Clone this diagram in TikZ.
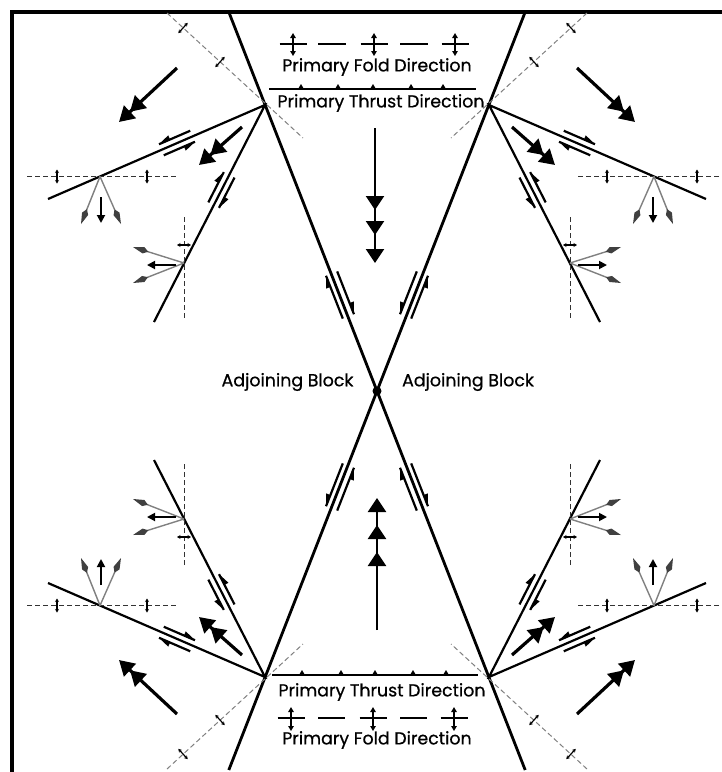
\documentclass[tikz,border=0pt]{standalone}
\usepackage{fontspec}
\newfontfamily\lblfont{Poppins}[FakeBold=0.6]
\usetikzlibrary{arrows.meta}

\newcommand\slippair[4]{%
  \begin{scope}[shift={#1},rotate=#2,yscale=#3]
    \draw[strip] (-#4,-6) -- (#4,-6);
    \fill (#4,-6) -- (#4-12,-6) -- (#4-12,-10.5) -- cycle;
    \draw[strip] (#4,6) -- (-#4,6);
    \fill (-#4,6) -- (-#4+12,6) -- (-#4+12,10.5) -- cycle;
  \end{scope}}

\newcommand\faultquadrant{%
  \draw[fault] (228.8,12) -- (377,391);
  \draw[minor] (48,199) -- (265,105) -- (154,322);
  \draw[axial] (167,13) -- (303,138);
  \draw[hinge] (27,176.5) -- (177,176.5);
  \draw[hinge] (184,217) -- (184,318);
  \draw[foldmark] (178.3,33.2) -- (187.7,22.8);
  \draw[foldmark] (215.3,67.2) -- (224.7,56.8);
  \foreach \x in {57,147} \draw[foldmark] (\x,169.5) -- (\x,183.5);
  \draw[foldmark] (177,245) -- (191,245);
  \draw[fanray] (100,176.5) -- (81,224);
  \draw[fanray] (100,176.5) -- (121,224);
  \draw[fanarrow] (101,197) -- (101,223);
  \draw[fanray] (184,263) -- (133,247);
  \draw[fanray] (184,263) -- (133,283);
  \draw[fanarrow] (176,265) -- (147,265);
  \draw[bigarrow] (177,68) -- (119,122);
  \draw[bigarrow] (242,127) -- (199,165);
  \slippair{(340,295)}{111.4}{1}{23}
  \slippair{(177,143)}{203.4}{-1}{17}
  \slippair{(221.4,190)}{242.9}{1}{17}}

\begin{document}
\begin{tikzpicture}[x=1pt,y=-1pt,
  fault/.style={line width=2.8pt},
  minor/.style={line width=2.2pt},
  axial/.style={gray,line width=1pt,dash pattern=on 5pt off 3pt},
  hinge/.style={black!80,line width=0.9pt,dash pattern=on 5pt off 3pt},
  foldmark/.style={line width=1.2pt,{Stealth[length=3.5pt,width=4pt]}-{Stealth[length=3.5pt,width=4pt]}},
  fanray/.style={black!50,line width=1.4pt,-{Kite[length=16pt,width=6.5pt,inset=5pt,color=black!75]}},
  fanarrow/.style={line width=1.8pt,-{Triangle[length=8pt,width=8pt]}},
  bigarrow/.style={line width=3.2pt,-{Triangle[length=15pt,width=17pt]Triangle[length=15pt,width=17pt]}},
  strip/.style={line width=2.2pt},
  mainhead/.style={-{Triangle[length=14pt,width=18pt]}},
  foldbar/.style={line width=2.6pt},
  foldarrow/.style={line width=1.4pt,{Triangle[length=5pt,width=5.5pt]}-{Triangle[length=5pt,width=5.5pt]}},
  lbl/.style={font=\lblfont\fontsize{17.4}{20}\selectfont,inner sep=0pt}]
\useasboundingbox (0,0) rectangle (722,772);
\draw[line width=4.5pt] (12,772) -- (12,12) -- (722,12);

\faultquadrant
\begin{scope}[shift={(754,0)},xscale=-1]\faultquadrant\end{scope}
\begin{scope}[shift={(0,782)},yscale=-1]\faultquadrant\end{scope}
\begin{scope}[shift={(754,782)},scale=-1]\faultquadrant\end{scope}

\coordinate (c) at (377,391);
\fill (c) circle[radius=4.5];
\node[lbl] (adjW) at (287.5,382) {Adjoining Block};
\node[lbl] (adjE) at (468,382) {Adjoining Block};

\draw[line width=2.2pt] (375,128) -- (375,250);
\foreach \y in {210,235,263} \draw[line width=2.2pt,mainhead] (375,\y-14) -- (375,\y);
\draw[line width=2.2pt] (377,630) -- (377,510);
\foreach \y in {498,525,552} \draw[line width=2.2pt,mainhead] (377,\y+14) -- (377,\y);

\foreach \x in {293,374,455} {
  \draw[foldbar] (\x-13.5,44) -- (\x+13.5,44);
  \draw[foldarrow] (\x,33) -- (\x,56);
}
\foreach \x in {318,400} \draw[foldbar] (\x,44) -- (\x+28,44);
\node[lbl] (foldN) at (377,67) {Primary Fold Direction};
\draw[line width=2.6pt] (269,89) -- (476,89);
\foreach \x in {301,338,373,411,443} \fill (\x-3,89) -- (\x,84) -- (\x+3,89) -- cycle;
\node[lbl] (thrustN) at (381,103) {Primary Thrust Direction};

\draw[line width=2.6pt] (272,675) -- (478,675);
\foreach \x in {302,341,375,413,446} \fill (\x-3,675) -- (\x,670) -- (\x+3,675) -- cycle;
\node[lbl] (thrustS) at (382,692) {Primary Thrust Direction};
\foreach \x in {291,373,454} {
  \draw[foldbar] (\x-13.5,718) -- (\x+13.5,718);
  \draw[foldarrow] (\x,707) -- (\x,731);
}
\foreach \x in {318,400} \draw[foldbar] (\x,718) -- (\x+27,718);
\node[lbl] (foldS) at (377,740) {Primary Fold Direction};
\end{tikzpicture}
\end{document}
